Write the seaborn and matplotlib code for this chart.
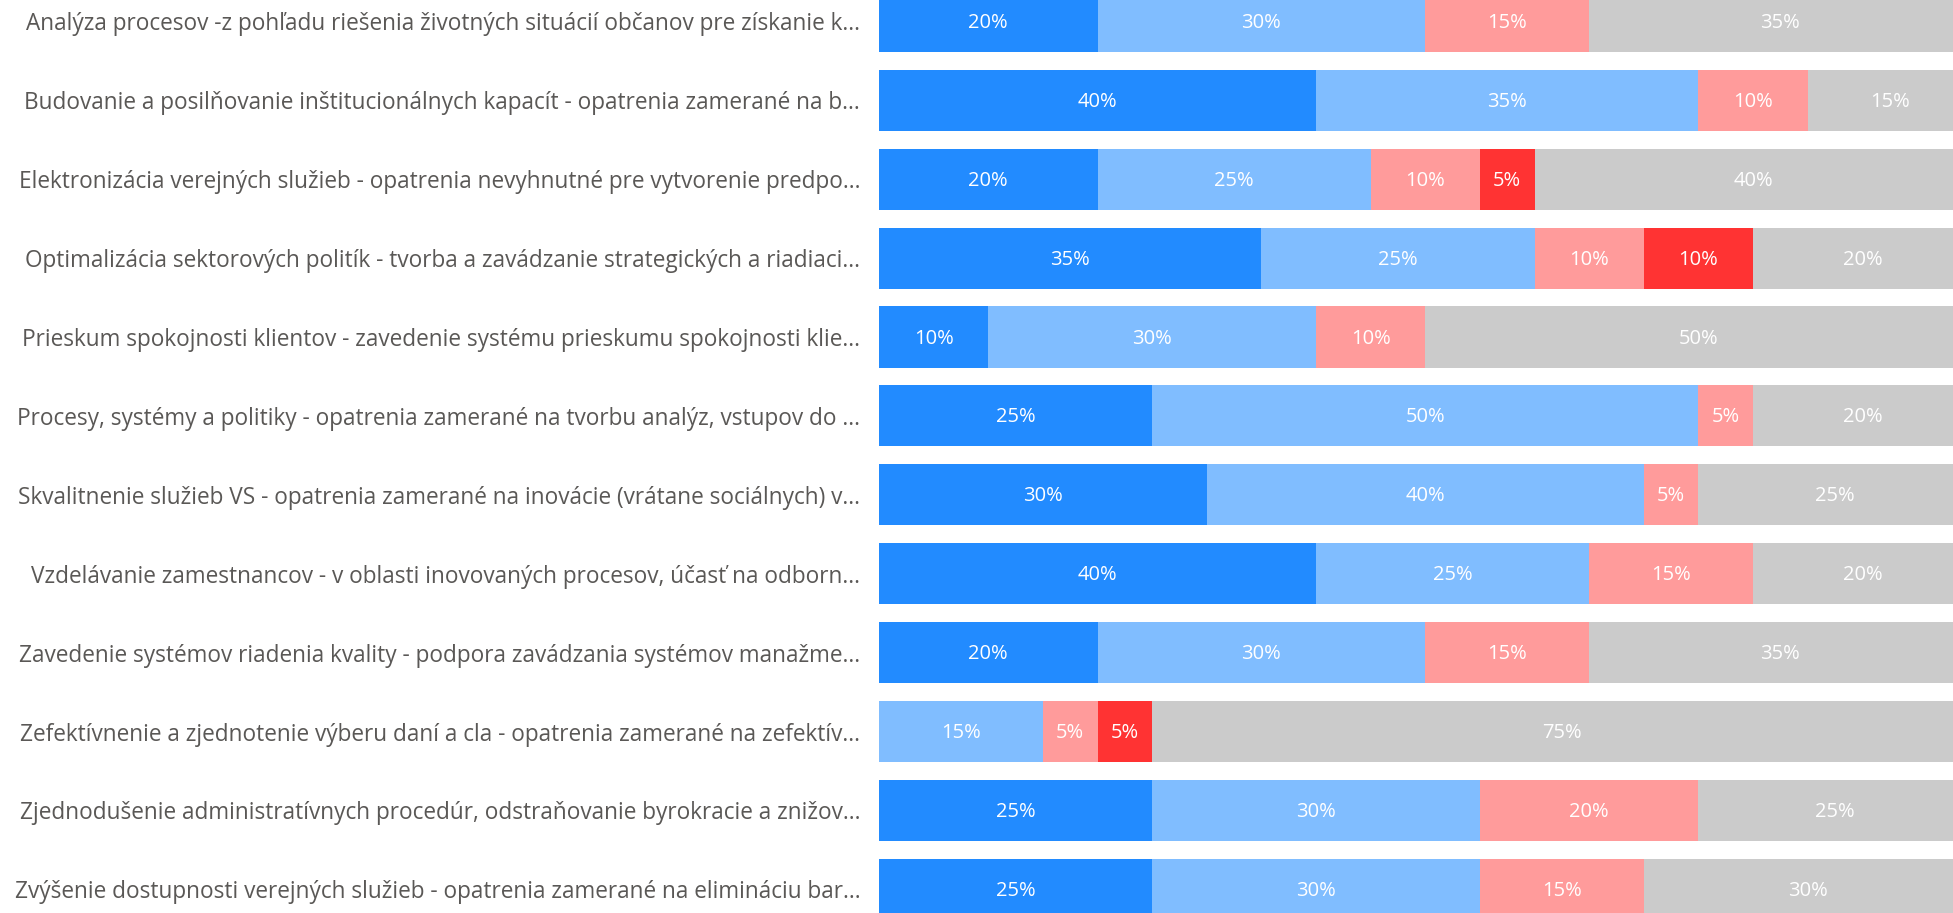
import matplotlib
matplotlib.use("Agg")
import matplotlib.pyplot as plt
import seaborn as sns
import numpy as np
import pandas as pd

# categories (truncated as in the source visual)
labels = [
    "Analýza procesov -z pohľadu riešenia životných situácií občanov pre získanie k...",
    "Budovanie a posilňovanie inštitucionálnych kapacít - opatrenia zamerané na b...",
    "Elektronizácia verejných služieb - opatrenia nevyhnutné pre vytvorenie predpo...",
    "Optimalizácia sektorových politík - tvorba a zavádzanie strategických a riadiaci...",
    "Prieskum spokojnosti klientov - zavedenie systému prieskumu spokojnosti klie...",
    "Procesy, systémy a politiky - opatrenia zamerané na tvorbu analýz, vstupov do ...",
    "Skvalitnenie služieb VS - opatrenia zamerané na inovácie (vrátane sociálnych) v...",
    "Vzdelávanie zamestnancov - v oblasti inovovaných procesov, účasť na odborn...",
    "Zavedenie systémov riadenia kvality - podpora zavádzania systémov manažme...",
    "Zefektívnenie a zjednotenie výberu daní a cla - opatrenia zamerané na zefektív...",
    "Zjednodušenie administratívnych procedúr, odstraňovanie byrokracie a znižov...",
    "Zvýšenie dostupnosti verejných služieb - opatrenia zamerané na elimináciu bar...",
]

# percentage shares per answer group
s1 = [20, 40, 20, 35, 10, 25, 30, 40, 20, 0, 25, 25]
s2 = [30, 35, 25, 25, 30, 50, 40, 25, 30, 15, 30, 30]
s3 = [15, 10, 10, 10, 10, 5, 5, 15, 15, 5, 20, 15]
s4 = [0, 0, 5, 10, 0, 0, 0, 0, 0, 5, 0, 0]
s5 = [35, 15, 40, 20, 50, 20, 25, 20, 35, 75, 25, 30]

colors = ["#228BFF", "#80BDFF", "#FF9B9B", "#FF3333", "#CBCBCB"]

sns.set_theme(style="white")
plt.rcParams["font.family"] = ["Open Sans", "DejaVu Sans"]

series = [s1, s2, s3, s4, s5]
df = pd.DataFrame({"label": labels})
cum = np.zeros(len(labels))
cums = []
for s in series:
    cum = cum + np.array(s)
    cums.append(cum.copy())

fig = plt.figure(figsize=(19.53, 9.13), dpi=100)
ax = fig.add_axes([879 / 1953, 0, 1 - 879 / 1953, 1])

# draw the stacked layers from the widest down
for i in range(len(series) - 1, -1, -1):
    df["v"] = cums[i]
    sns.barplot(data=df, y="label", x="v", orient="h", color=colors[i],
                saturation=1, width=0.775, ax=ax, linewidth=0, errorbar=None)

for i, s in enumerate(series):
    for j, v in enumerate(s):
        if v > 0:
            ax.text(cums[i][j] - v / 2, j + 0.02, f"{v}%", ha="center", va="center",
                    color="white", fontsize=14.5)

ax.set_xlim(0, 98.3)
ax.set_ylim(11.30, -0.271)
ax.set_xlabel("")
ax.set_ylabel("")
ax.set_xticks([])
ax.tick_params(axis="y", length=0, pad=13.5, labelsize=16.3, labelcolor="#5A5856")
for sp in ax.spines.values():
    sp.set_visible(False)

fig.savefig("out.png", dpi=100)
